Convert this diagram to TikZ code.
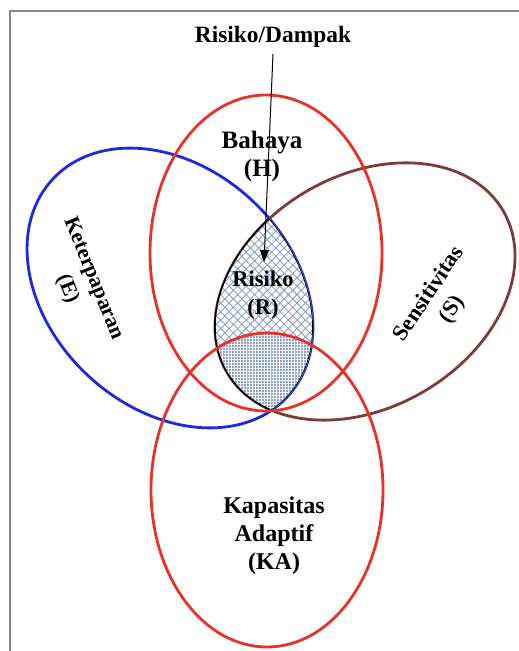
\documentclass[tikz,border=0pt]{standalone}
\usepackage{fontspec}
\setmainfont{Liberation Serif}
\usetikzlibrary{arrows.meta,patterns.meta}
\definecolor{redH}{RGB}{232,50,40}
\definecolor{blueE}{RGB}{30,40,225}
\definecolor{brownS}{RGB}{125,60,60}
\definecolor{framecol}{RGB}{135,135,135}
\definecolor{hatchcol}{RGB}{140,160,200}
\definecolor{checkbase}{RGB}{140,162,205}
\tikzset{
  ring/.style={line width=2.8pt},
  lbl/.style={font=\bfseries\fontsize{#1}{28}\selectfont, align=center, text=black, inner sep=0pt},
  lensline/.style={draw=black, line width=1.6pt},
}
\begin{document}
\begin{tikzpicture}[x=1pt,y=1pt]
\useasboundingbox (0,0) rectangle (519,651);
% frame
\draw[framecol, line width=1.3pt] (10,0) -- (10,640) -- (519,640);
% Exposure and Sensitivity ellipses
\draw[ring, blueE, rotate around={-42.8:(170,363)}] (170,363) ellipse [x radius=160pt, y radius=120pt];
\draw[ring, brownS, rotate around={30.3:(365,359.5)}] (365,359.5) ellipse [x radius=160pt, y radius=116pt];
% Risk lens (E intersect S)
\begin{scope}
  \clip[rotate around={-42.8:(170,363)}] (170,363) ellipse [x radius=160pt, y radius=120pt];
  \fill[white, rotate around={30.3:(365,359.5)}] (365,359.5) ellipse [x radius=160pt, y radius=116pt];
  \fill[pattern={Hatch[angle=45,distance=6pt,line width=0.9pt]}, pattern color=hatchcol, rotate around={30.3:(365,359.5)}] (365,359.5) ellipse [x radius=160pt, y radius=116pt];
  \begin{scope}
    \clip[rotate around={30.3:(365,359.5)}] (365,359.5) ellipse [x radius=160pt, y radius=116pt];
    \fill[checkbase] (267,161) ellipse [x radius=116pt, y radius=157pt];
    \fill[pattern={Hatch[angle=0,distance=3pt,line width=1pt]}, pattern color=white] (267,161) ellipse [x radius=116pt, y radius=157pt];
    \draw[lensline, rotate around={-42.8:(170,363)}] (170,363) ellipse [x radius=160pt, y radius=120pt];
  \end{scope}
  \draw[lensline, rotate around={30.3:(365,359.5)}] (365,359.5) ellipse [x radius=160pt, y radius=116pt];
\end{scope}
% Hazard and Adaptive capacity ellipses
\draw[ring, redH] (266,398) ellipse [x radius=116pt, y radius=158pt];
\draw[ring, redH] (267,161) ellipse [x radius=116pt, y radius=157pt];
% labels
\node[lbl=23.4, anchor=base] (rd) at (273,608) {Risiko/Dampak};
\node[lbl=25] (h) at (262,495) {Bahaya\\(H)};
\node[lbl=22.5] (r) at (263,355.5) {Risiko\\(R)};
\node[lbl=24] (ka) at (274,115) {Kapasitas\\Adaptif\\(KA)};
\node[lbl=21.5, rotate=-68] (e) at (80,367) {Keterpaparan\\(E)};
\node[lbl=22.5, rotate=56.5] (s) at (441,349) {Sensitivitas\\(S)};
% arrow
\coordinate (tip) at (264,389);
\draw[line width=1pt, -{Triangle[length=12pt,width=9pt]}] ([yshift=-6pt]rd.south) -- (tip);
\end{tikzpicture}
\end{document}
